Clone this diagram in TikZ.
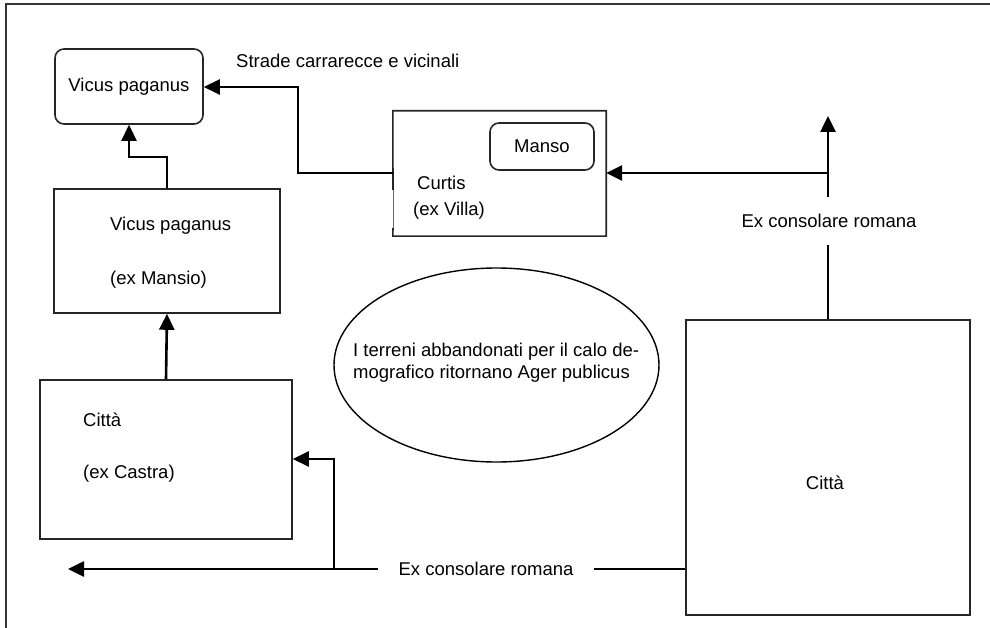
\documentclass[tikz,border=0pt]{standalone}
\usepackage{fontspec}
\setmainfont{Liberation Sans}
\usetikzlibrary{arrows.meta,shapes.geometric}
\tikzset{
  box/.style={draw=black!85, line width=1.6pt, inner sep=0pt},
  rbox/.style={box, rounded corners=9pt},
  lbl/.style={inner sep=0pt, anchor=west},
  conn/.style={line width=2.6pt, line join=miter},
  arr/.style={conn, -{Triangle[length=16pt,width=15pt]}},
  gaplbl/.style={inner sep=0pt},
  edge/.style={draw=black!85, line width=1.6pt},
}
\begin{document}
\begin{tikzpicture}[x=1pt,y=-1pt,font=\fontsize{18.5}{22.5}\selectfont]
\useasboundingbox (0,0) rectangle (990,628);
% outer frame
\coordinate (ftl) at (6,4);
\coordinate (ftr) at (992,4);
\coordinate (fbl) at (6,630);
\draw[line width=1.8pt, black!80] (ftr) -- (ftl) -- (fbl);

% boxes
\node[rbox, minimum width=148pt, minimum height=75pt] (vp) at (129,86.5) {Vicus paganus};
\node[box, minimum width=226pt, minimum height=124pt] (mansio) at (167,251) {};
\node[box, minimum width=252pt, minimum height=159pt] (castra) at (166,459.5) {};
\node[inner sep=0pt, minimum width=213pt, minimum height=125pt] (curtis) at (499.5,173.5) {};
\coordinate (cg1) at (393,190);
\coordinate (cg2) at (393,228);
\draw[edge, line join=miter] (cg1) -- (curtis.north west) -- (curtis.north east) -- (curtis.south east) -- (curtis.south west) -- (cg2);
\draw[black!60, line width=0.6pt] (cg1) -- (cg2);
\node[rbox, minimum width=104pt, minimum height=47pt] (manso) at (542,146.5) {Manso};
\node[ellipse, draw=black, line width=1.4pt, minimum width=325pt, minimum height=194pt, inner sep=0pt] (ager) at (496.5,365) {};
\node[box, minimum width=284pt, minimum height=295pt] (citta) at (828,467.5) {};

% texts
\node[lbl] (strade) at (236,61) {Strade carrarecce e vicinali};
\node[lbl] (mt1) at (110,226) {Vicus paganus};
\node[lbl] (mt2) at (110,280) {(ex Mansio)};
\node[lbl] (ct1) at (83,420) {Città};
\node[lbl] (ct2) at (83,474) {(ex Castra)};
\node[lbl] (cu1) at (417,183) {Curtis};
\node[lbl] (cu2) at (413,211) {(ex Villa)};
\node[lbl] (ag1) at (353,352) {I terreni abbandonati per il calo de-};
\node[lbl] (ag2) at (353,374) {mografico ritornano Ager publicus};
\node (cittat) at (825,483) {Città};
\node[gaplbl, minimum height=48pt] (rlab) at (829,221) {Ex consolare romana};
\node[gaplbl, minimum width=216pt] (blab) at (486,569) {Ex consolare romana};

% connectors
\coordinate (c1) at (298,173);
\coordinate (c2) at (298,87);
\draw[arr] (curtis.west |- c1) -- (c1) -- (c2) -- (vp.east |- c2);

\coordinate (m1) at (167,157);
\coordinate (m2) at (129,157);
\draw[arr] (mansio.north -| m1) -- (m1) -- (m2) -- (vp.south);

\draw[arr] (castra.north) -- (mansio.south);

\coordinate (rtop) at (828,116);
\coordinate (rj) at (828,173);
\draw[conn] (citta.north) -- (rlab.south -| citta.north);
\draw[arr] (rlab.north -| citta.north) -- (rtop);
\draw[arr] (rj) -- (curtis.east |- rj);

\coordinate (btip) at (68,569);
\coordinate (bj) at (334,569);
\coordinate (bk) at (334,459);
\draw[conn] (blab.east) -- (blab.east -| citta.west);
\draw[arr] (blab.west) -- (btip);
\draw[arr] (bj) -- (bk) -- (castra.east |- bk);
\end{tikzpicture}
\end{document}
